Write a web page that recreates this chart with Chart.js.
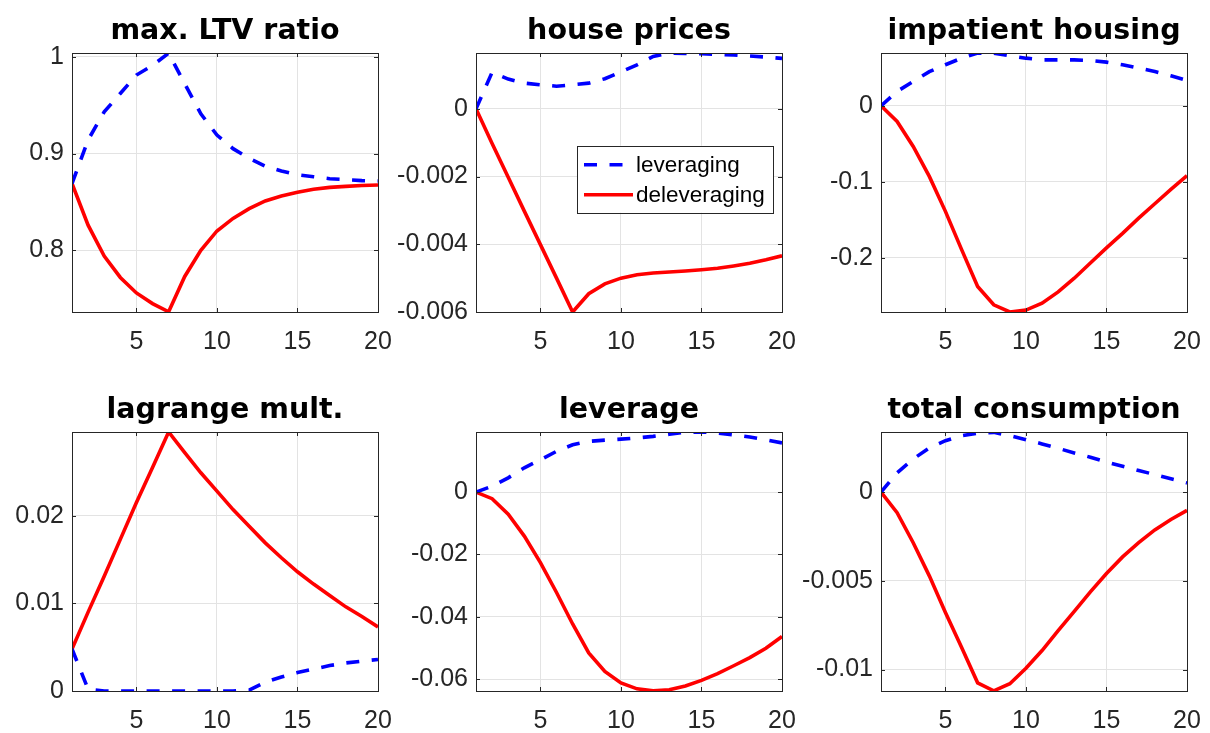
<!DOCTYPE html>
<html lang="en">
<head>
<meta charset="UTF-8">
<title>Leveraging vs deleveraging</title>
<script src="https://cdn.jsdelivr.net/npm/chart.js"></script>
<style>
  body { margin: 0; background: #fff; overflow: hidden; width: 1210px; height: 733px; }
  .panel { position: absolute; }
</style>
</head>
<body>
<canvas id="p0" class="panel"></canvas>
<canvas id="p1" class="panel"></canvas>
<canvas id="p2" class="panel"></canvas>
<canvas id="p3" class="panel"></canvas>
<canvas id="p4" class="panel"></canvas>
<canvas id="p5" class="panel"></canvas>

<script>
// ---- data ----
const periods = [1,2,3,4,5,6,7,8,9,10,11,12,13,14,15,16,17,18,19,20];
const xTicks = [5, 10, 15, 20];
const seriesNames = ['leveraging', 'deleveraging'];
const titles = ['max. LTV ratio', 'house prices', 'impatient housing', 'lagrange mult.', 'leverage', 'total consumption'];

const ltvLev   = [0.869,0.914,0.943,0.962,0.981,0.991,1.0036,0.972,0.941,0.919,0.905,0.895,0.887,0.882,0.878,0.876,0.874,0.873,0.872,0.8716];
const ltvDelev = [0.869,0.826,0.794,0.772,0.756,0.745,0.7365,0.773,0.800,0.820,0.833,0.843,0.851,0.856,0.860,0.863,0.865,0.866,0.867,0.8675];
const ltvRange = [0.7363, 1.0038];
const ltvTicks = [0.8, 0.9, 1];
const ltvTickLabels = ['0.8', '0.9', '1'];

const hpLev   = [0,0.00108,0.00088,0.00076,0.00071,0.00067,0.00071,0.00076,0.00089,0.00109,0.0013,0.00155,0.00165,0.00164,0.00163,0.00161,0.00159,0.00156,0.00153,0.00149];
const hpDelev = [0,-0.00102,-0.00202,-0.00302,-0.00401,-0.00500,-0.0060,-0.00546,-0.00517,-0.0050,-0.0049,-0.00485,-0.00482,-0.00479,-0.00475,-0.00471,-0.00464,-0.00456,-0.00446,-0.00434];
const hpRange = [-0.0060, 0.00165];
const hpTicks = [-0.006, -0.004, -0.002, 0];
const hpTickLabels = ['-0.006', '-0.004', '-0.002', '0'];

const ihLev   = [0,0.0189,0.032,0.045,0.054,0.0627,0.0693,0.0693,0.0658,0.0627,0.0605,0.0605,0.0605,0.0596,0.0575,0.054,0.0496,0.0452,0.0395,0.0333];
const ihDelev = [0,-0.0206,-0.0535,-0.093,-0.139,-0.189,-0.238,-0.262,-0.2715,-0.269,-0.260,-0.245,-0.227,-0.207,-0.187,-0.168,-0.148,-0.129,-0.110,-0.092];
const ihRange = [-0.2715, 0.0695];
const ihTicks = [-0.2, -0.1, 0];
const ihTickLabels = ['-0.2', '-0.1', '0'];

const lmLev   = [0.0048,0.0002,0,0,0,0,0,0,0,0,0,0.0001,0.001,0.0016,0.0021,0.0025,0.0029,0.0032,0.0034,0.0036];
const lmDelev = [0.0048,0.009,0.0131,0.0173,0.0215,0.0255,0.02955,0.0272,0.0249,0.0228,0.0207,0.0188,0.0169,0.0152,0.0136,0.0122,0.0109,0.0096,0.0085,0.0073];
const lmRange = [0, 0.02955];
const lmTicks = [0, 0.01, 0.02];
const lmTickLabels = ['0', '0.01', '0.02'];

const levLev   = [0,0.0019,0.0046,0.0078,0.0104,0.0131,0.0152,0.0163,0.0167,0.017,0.0174,0.0179,0.0186,0.0192,0.0193,0.019,0.0184,0.0177,0.0168,0.0158];
const levDelev = [0,-0.0021,-0.0071,-0.0141,-0.0226,-0.0322,-0.0423,-0.0516,-0.0575,-0.0612,-0.0631,-0.0637,-0.0634,-0.0622,-0.0604,-0.0582,-0.0557,-0.0531,-0.0501,-0.0463];
const levRange = [-0.0638, 0.0193];
const levTicks = [-0.06, -0.04, -0.02, 0];
const levTickLabels = ['-0.06', '-0.04', '-0.02', '0'];

const tcLev   = [0,0.00109,0.00187,0.00249,0.0029,0.00318,0.00333,0.00337,0.00318,0.00296,0.00272,0.00247,0.00221,0.00197,0.0017,0.00146,0.00122,0.00099,0.00075,0.00052];
const tcDelev = [0,-0.00116,-0.00285,-0.00472,-0.00678,-0.00875,-0.01075,-0.0112,-0.0108,-0.00993,-0.00893,-0.00781,-0.00672,-0.00562,-0.00459,-0.00365,-0.00285,-0.00213,-0.00154,-0.00103];
const tcRange = [-0.01121, 0.00339];
const tcTicks = [-0.01, -0.005, 0];
const tcTickLabels = ['-0.01', '-0.005', '0'];

// ---- layout ----
const colLeft = [71.7, 476.3, 881.3];
const rowTop = [53.3, 432.3];
const plotW = 306, plotH = 259;
const yAxisW = 95, titleH = 53, xAxisH = 45, rightPad = 22;

const axisColor = '#262626';
const gridColor = '#e3e3e3';
const tickFont = { family: 'Liberation Sans, Arial, sans-serif', size: 25 };

// box, inward ticks and title, MATLAB style
const boxPlugin = {
    id: 'box',
    afterDatasetsDraw(chart) {
        const { ctx, chartArea: a, scales } = chart;
        ctx.save();
        ctx.strokeStyle = axisColor;
        ctx.lineWidth = 1;
        ctx.strokeRect(Math.round(a.left) + 0.5, Math.round(a.top) + 0.5, Math.round(a.right - a.left), Math.round(a.bottom - a.top));
        ctx.beginPath();
        scales.y.ticks.forEach(t => {
            const y = Math.round(scales.y.getPixelForValue(t.value)) + 0.5;
            ctx.moveTo(a.left, y); ctx.lineTo(a.left + 4, y);
            ctx.moveTo(a.right, y); ctx.lineTo(a.right - 4, y);
        });
        scales.x.ticks.forEach(t => {
            const x = Math.round(scales.x.getPixelForValue(t.value)) + 0.5;
            ctx.moveTo(x, a.bottom); ctx.lineTo(x, a.bottom - 4);
            ctx.moveTo(x, a.top); ctx.lineTo(x, a.top + 4);
        });
        ctx.stroke();

        ctx.fillStyle = '#000';
        ctx.font = 'bold 28.5px "DejaVu Sans", sans-serif';
        ctx.textAlign = 'center';
        ctx.textBaseline = 'alphabetic';
        ctx.fillText(chart.options.plugins.box.title, (a.left + a.right) / 2, a.top - 14);
        ctx.restore();
    }
};

// legend box drawn inside the house prices panel
const insideLegend = {
    id: 'insideLegend',
    afterDraw(chart) {
        if (!chart.options.plugins.insideLegend.show) return;
        const { ctx, chartArea: a } = chart;
        const left = a.left + 101, top = a.top + 92.7, w = 196, h = 67;
        ctx.save();
        ctx.fillStyle = '#fff';
        ctx.fillRect(left, top, w, h);
        ctx.strokeStyle = axisColor;
        ctx.lineWidth = 1;
        ctx.strokeRect(Math.round(left) + 0.5, Math.round(top) + 0.5, w, h);
        chart.data.datasets.forEach((ds, i) => {
            const y = top + 19 + i * 30;
            ctx.beginPath();
            ctx.strokeStyle = ds.borderColor;
            ctx.lineWidth = ds.borderWidth;
            ctx.setLineDash(ds.borderDash || []);
            ctx.moveTo(left + 7, y);
            ctx.lineTo(left + 56, y);
            ctx.stroke();
            ctx.setLineDash([]);
            ctx.fillStyle = '#000';
            ctx.font = '22.5px "Liberation Sans", Arial, sans-serif';
            ctx.textAlign = 'left';
            ctx.textBaseline = 'middle';
            ctx.fillText(ds.label, left + 59, y + 1);
        });
        ctx.restore();
    }
};

const panels = [
    { lev: ltvLev, delev: ltvDelev, range: ltvRange, ticks: ltvTicks, labels: ltvTickLabels },
    { lev: hpLev, delev: hpDelev, range: hpRange, ticks: hpTicks, labels: hpTickLabels, legend: true },
    { lev: ihLev, delev: ihDelev, range: ihRange, ticks: ihTicks, labels: ihTickLabels },
    { lev: lmLev, delev: lmDelev, range: lmRange, ticks: lmTicks, labels: lmTickLabels },
    { lev: levLev, delev: levDelev, range: levRange, ticks: levTicks, labels: levTickLabels },
    { lev: tcLev, delev: tcDelev, range: tcRange, ticks: tcTicks, labels: tcTickLabels }
];

function toPoints(values) {
    return periods.map((p, i) => ({ x: p, y: values[i] }));
}

panels.forEach((p, k) => {
    const col = k % 3, row = Math.floor(k / 3);
    const canvas = document.getElementById('p' + k);
    const w = yAxisW + plotW + rightPad, h = titleH + plotH + xAxisH;
    canvas.width = w; canvas.height = h;
    canvas.style.width = w + 'px'; canvas.style.height = h + 'px';
    canvas.style.left = (colLeft[col] - yAxisW) + 'px';
    canvas.style.top = (rowTop[row] - titleH) + 'px';

    new Chart(canvas.getContext('2d'), {
        type: 'line',
        data: {
            datasets: [
                { label: seriesNames[0], data: toPoints(p.lev), borderColor: '#0000ff', borderWidth: 3.6, borderDash: [13, 12.5], pointRadius: 0, tension: 0 },
                { label: seriesNames[1], data: toPoints(p.delev), borderColor: '#ff0000', borderWidth: 3.6, pointRadius: 0, tension: 0 }
            ]
        },
        options: {
            responsive: false,
            animation: false,
            layout: { padding: { top: titleH, right: rightPad, left: 0, bottom: 0 } },
            plugins: {
                legend: { display: false },
                tooltip: { enabled: false },
                box: { title: titles[k] },
                insideLegend: { show: !!p.legend }
            },
            scales: {
                x: {
                    type: 'linear', min: 1, max: 20,
                    afterBuildTicks: s => { s.ticks = xTicks.map(v => ({ value: v })); },
                    afterFit: s => { s.height = xAxisH; s.paddingLeft = 0; s.paddingRight = 0; },
                    grid: { color: gridColor, drawTicks: false },
                    border: { display: false },
                    ticks: { font: tickFont, color: axisColor, padding: 15, maxRotation: 0, autoSkip: false }
                },
                y: {
                    type: 'linear', min: p.range[0], max: p.range[1],
                    afterBuildTicks: s => { s.ticks = p.ticks.map(v => ({ value: v })); },
                    afterFit: s => { s.width = yAxisW; s.paddingTop = 0; s.paddingBottom = 0; },
                    grid: { color: gridColor, drawTicks: false },
                    border: { display: false },
                    ticks: { font: tickFont, color: axisColor, padding: 8, callback: (v, i) => p.labels[i] }
                }
            }
        },
        plugins: [boxPlugin, insideLegend]
    });
});
</script>
</body>
</html>
